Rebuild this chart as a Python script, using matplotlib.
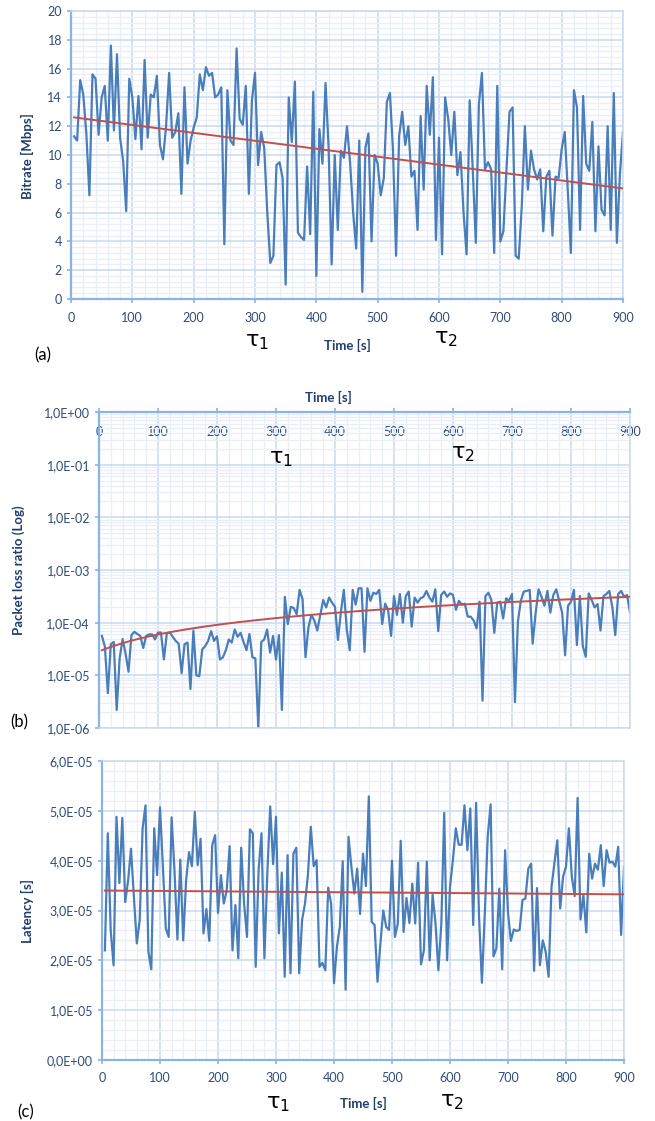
import numpy as np
import matplotlib
matplotlib.use('Agg')
import matplotlib.pyplot as plt
from matplotlib.ticker import MultipleLocator, LogLocator, FuncFormatter, NullFormatter

plt.rcParams['font.family'] = ['Lato', 'DejaVu Sans']

# sampling grid (one sample every 5 s)
time_s = np.arange(5, 901, 5)

# (a) bitrate in Mbps
bitrate = [11.3, 11.0, 15.2, 14.2, 11.5, 7.2, 15.6, 15.3, 11.4, 14.0,
           14.8, 11.0, 17.6, 11.7, 17.0, 11.2, 9.6, 6.1, 15.3, 14.0,
           11.1, 14.1, 10.4, 16.6, 11.2, 14.2, 14.0, 15.5, 10.7, 9.7,
           12.0, 15.7, 11.2, 11.6, 12.9, 7.3, 14.7, 9.4, 11.0, 11.9,
           12.6, 15.6, 14.5, 16.1, 15.5, 15.7, 14.0, 14.2, 14.7, 3.8,
           14.5, 11.0, 10.7, 17.4, 12.5, 12.1, 14.8, 7.3, 13.8, 15.7,
           9.3, 11.6, 10.5, 6.0, 2.5, 3.0, 9.3, 9.5, 8.4, 1.0,
           14.0, 10.9, 15.1, 4.6, 4.3, 4.1, 9.2, 4.5, 14.4, 1.6,
           11.8, 9.4, 15.0, 10.5, 2.4, 10.0, 4.8, 10.3, 9.8, 12.0,
           9.5, 6.0, 3.5, 11.0, 0.5, 10.5, 11.5, 4.0, 10.0, 9.4,
           7.2, 8.4, 13.7, 14.3, 10.3, 3.0, 11.3, 13.0, 10.7, 12.0,
           8.5, 8.9, 4.8, 12.7, 7.6, 14.8, 11.4, 15.4, 4.1, 11.2,
           3.1, 14.0, 12.5, 10.0, 13.0, 8.6, 10.2, 6.0, 3.1, 13.8,
           9.0, 3.9, 13.5, 15.7, 9.0, 9.5, 9.0, 3.2, 14.8, 4.0,
           4.7, 9.0, 13.0, 13.3, 3.0, 2.8, 6.5, 12.0, 7.6, 10.3,
           9.0, 8.3, 9.0, 4.7, 8.5, 8.9, 4.4, 8.5, 8.4, 10.4,
           11.6, 7.5, 3.2, 14.5, 13.3, 4.8, 14.1, 9.4, 8.9, 12.3,
           4.7, 10.6, 6.2, 5.8, 12.0, 4.8, 14.3, 3.9, 8.7, 11.6]

# (b) packet loss ratio
loss_ratio = [5.6e-5, 3.5e-5, 4.6e-6, 3.9e-5, 4.3e-5, 2.2e-6, 2.1e-5, 4.9e-5, 2.6e-5, 1.17e-5,
              5.8e-5, 6.7e-5, 6.1e-5, 5.6e-5, 3.3e-5, 5.6e-5, 6.0e-5, 6.0e-5, 4.8e-5, 6.5e-5,
              6.5e-5, 2.0e-5, 6.3e-5, 6.5e-5, 5.4e-5, 4.5e-5, 4.0e-5, 1.1e-5, 3.9e-5, 4.2e-5,
              5.5e-6, 7.1e-5, 1.0e-5, 9.6e-6, 3.1e-5, 3.6e-5, 4.5e-5, 6.9e-5, 4.5e-5, 5.5e-5,
              2.0e-5, 2.2e-5, 3.0e-5, 4.8e-5, 4.2e-5, 7.4e-5, 5.4e-5, 6.4e-5, 4.3e-5, 3.0e-5,
              6.1e-5, 2.2e-5, 2.1e-5, 1.0e-6, 4.3e-5, 4.8e-5, 7.4e-5, 2.7e-5, 5.6e-5, 2.0e-5,
              5.8e-5, 2.2e-6, 3.1e-4, 9.4e-5, 2.0e-4, 1.9e-4, 1.45e-4, 4.2e-4, 2.8e-4, 2.2e-5,
              8.2e-5, 1.4e-4, 1.1e-4, 7.1e-5, 1.4e-4, 2.7e-4, 1.95e-4, 3.0e-4, 2.4e-4, 2.0e-4,
              4.7e-5, 1.6e-4, 4.2e-4, 7.3e-5, 3.0e-5, 4.2e-4, 2.2e-4, 4.5e-4, 4.5e-4, 2.8e-5,
              4.5e-4, 2.6e-4, 3.7e-4, 3.5e-4, 4.2e-4, 9.4e-5, 2.3e-4, 1.75e-4, 5.6e-5, 3.2e-4,
              1.4e-4, 3.5e-4, 1.0e-4, 3.2e-4, 3.9e-4, 8.4e-5, 3.0e-4, 2.4e-4, 2.9e-4, 3.1e-4,
              4.0e-4, 3.0e-4, 2.5e-4, 4.3e-4, 6.9e-5, 3.35e-4, 3.9e-4, 3.1e-4, 3.6e-4, 3.35e-4,
              1.75e-4, 2.6e-4, 2.2e-4, 2.3e-4, 1.3e-4, 1.3e-4, 1.1e-4, 7.8e-5, 2.5e-4, 3.3e-6,
              3.2e-4, 3.7e-4, 2.7e-4, 6.4e-5, 2.4e-4, 2.5e-4, 1.2e-4, 2.9e-4, 2.6e-4, 3.5e-4,
              3.1e-6, 1.05e-4, 2.6e-4, 3.9e-4, 4.0e-4, 4.2e-4, 4.0e-5, 1.5e-4, 4.3e-4, 3.1e-4,
              2.1e-4, 4.0e-4, 1.55e-4, 3.35e-4, 4.3e-4, 2.6e-4, 1.55e-4, 2.4e-5, 2.1e-4, 2.5e-4,
              4.2e-4, 3.75e-5, 3.2e-4, 3.6e-5, 2.25e-5, 3.6e-4, 2.7e-4, 1.95e-4, 2.25e-4, 7.1e-5,
              3.2e-4, 3.5e-4, 4.0e-4, 2.0e-4, 5.8e-5, 3.5e-4, 4.0e-4, 3.1e-4, 3.35e-4, 1.55e-4]

# (c) latency, in units of 1E-05 s
latency_e5 = [2.20, 4.55, 2.6, 1.90, 4.88, 3.55, 4.86, 3.17, 3.6, 4.24,
              3.27, 2.34, 2.8, 4.65, 5.11, 2.17, 1.82, 4.65, 3.71, 5.07,
              3.88, 2.64, 2.47, 4.87, 3.8, 2.42, 4.02, 2.4, 3.6, 4.17,
              3.89, 4.98, 3.91, 4.44, 2.54, 3.03, 2.39, 4.31, 4.51, 2.95,
              3.71, 3.14, 3.4, 4.29, 2.20, 3.11, 2.04, 4.26, 3.14, 2.47,
              4.63, 4.55, 1.87, 3.81, 4.55, 2.04, 3.74, 5.09, 3.93, 4.88,
              2.54, 3.76, 1.67, 4.11, 1.74, 4.14, 4.26, 1.74, 2.81, 3.14,
              3.71, 4.68, 3.89, 4.01, 1.87, 1.95, 1.80, 3.46, 3.14, 1.54,
              2.27, 2.67, 3.99, 1.41, 4.48, 3.88, 3.34, 3.84, 2.93, 4.14,
              3.49, 5.29, 2.77, 2.71, 1.57, 2.34, 3.0, 2.67, 2.61, 4.0,
              2.47, 2.74, 4.40, 2.57, 3.25, 2.75, 3.54, 2.74, 3.96, 1.92,
              2.20, 3.98, 2.0, 3.32, 2.74, 1.80, 2.73, 4.96, 2.0, 3.47,
              4.01, 4.65, 4.32, 4.32, 5.11, 4.21, 5.05, 2.71, 5.16, 2.91,
              1.55, 2.94, 4.48, 5.13, 2.08, 2.24, 3.44, 1.82, 4.21, 2.95,
              2.39, 2.62, 2.59, 2.61, 3.21, 3.24, 3.84, 3.94, 1.79, 3.45,
              1.90, 2.40, 2.17, 1.67, 3.47, 3.95, 4.41, 3.04, 3.68, 3.88,
              4.65, 3.68, 3.29, 5.26, 2.82, 3.31, 2.56, 4.14, 3.64, 3.94,
              3.82, 4.31, 3.49, 4.21, 3.96, 3.98, 3.88, 4.28, 2.51, 3.88]
latency = np.array(latency_e5) * 1e-5

BLUE = '#4A7EBB'
RED = '#C0504D'
AXIS = '#8DB3E2'
GRID_MAJ = '#C9DAF0'
GRID_MIN = '#E8EFF8'
TICK = '#2F4B7C'
LABEL = '#1F3D6E'

W, H = 655, 1121
fig = plt.figure(figsize=(W / 100, H / 100), dpi=100)


def px_axes(left, top, right, bottom):
    return fig.add_axes([left / W, 1 - bottom / H, (right - left) / W, (bottom - top) / H])


def ftext(x, y, s, **kw):
    fig.text(x / W, 1 - y / H, s, ha='center', va='center', **kw)


def tau(x, y, n):
    # tau with a subscript index, as one text
    ftext(x, y, r'$\mathregular{τ_{%s}}$' % n, fontsize=16, color='black',
          family='DejaVu Sans')


def excel_sci(v, pos):
    return f'{v:.1E}'.replace('.', ',')


def base_style(ax, axis_side='bottom'):
    ax.set_xlim(0, 900)
    ax.xaxis.set_major_locator(MultipleLocator(100))
    ax.xaxis.set_minor_locator(MultipleLocator(20))
    ax.grid(which='major', color=GRID_MAJ, lw=1.1)
    ax.grid(which='minor', color=GRID_MIN, lw=0.9)
    ax.set_axisbelow(True)
    for s in ['top', 'right', 'bottom']:
        ax.spines[s].set_color(GRID_MAJ)
        ax.spines[s].set_linewidth(1.1)
    ax.spines['left'].set_color(AXIS)
    ax.spines['left'].set_linewidth(1.6)
    ax.spines[axis_side].set_color(AXIS)
    ax.spines[axis_side].set_linewidth(1.6)
    ax.tick_params(which='major', length=3, width=1.2, color=AXIS,
                   labelcolor=TICK, labelsize=9)
    ax.tick_params(which='minor', length=0)


def trend(ax, y):
    coef = np.polyfit(time_s, y, 1)
    ax.plot(time_s, np.polyval(coef, time_s), color=RED, lw=1.4, zorder=3)


# ---------- (a) bitrate ----------
ax1 = px_axes(71, 11, 623, 299)
base_style(ax1)
ax1.plot(time_s, bitrate, color=BLUE, lw=1.6, zorder=2)
trend(ax1, bitrate)
ax1.set_ylim(0, 20)
ax1.yaxis.set_major_locator(MultipleLocator(2))
ax1.yaxis.set_minor_locator(MultipleLocator(0.4))
ax1.tick_params(axis='x', pad=6)
ftext(27, 156, 'Bitrate [Mbps]', rotation=90, fontsize=9.5, fontweight='bold', color=LABEL)
ftext(347, 345, 'Time [s]', fontsize=9.5, fontweight='bold', color=LABEL)
tau(257, 342, '1')
tau(446, 339, '2')
ftext(43, 355, '(a)', fontsize=12, color='black')

# ---------- (b) packet loss ----------
ax2 = px_axes(99, 412, 630, 728)
base_style(ax2, axis_side='top')
ax2.plot(time_s, loss_ratio, color=BLUE, lw=1.6, zorder=2)
trend(ax2, loss_ratio)
ax2.set_yscale('log')
ax2.set_ylim(1e-6, 1)
ax2.yaxis.set_major_locator(LogLocator(base=10, numticks=10))
ax2.yaxis.set_minor_locator(LogLocator(base=10, subs=np.arange(2, 10), numticks=20))
ax2.yaxis.set_major_formatter(FuncFormatter(excel_sci))
ax2.yaxis.set_minor_formatter(NullFormatter())
ax2.tick_params(axis='x', top=True, bottom=False, labeltop=True, labelbottom=False, pad=-22)
ax2.tick_params(axis='y', which='major', length=3)
ftext(19, 570, 'Packet loss ratio (Log)', rotation=90, fontsize=9.5, fontweight='bold', color=LABEL)
ftext(328, 397, 'Time [s]', fontsize=9.5, fontweight='bold', color=LABEL)
tau(281, 459, '1')
tau(463, 454, '2')
ftext(19, 722, '(b)', fontsize=12, color='black')

# ---------- (c) latency ----------
ax3 = px_axes(102, 761, 624, 1060)
base_style(ax3)
ax3.plot(time_s, latency, color=BLUE, lw=1.6, zorder=2)
trend(ax3, latency)
ax3.set_ylim(0, 6e-5)
ax3.yaxis.set_major_locator(MultipleLocator(1e-5))
ax3.yaxis.set_minor_locator(MultipleLocator(2e-6))
ax3.yaxis.set_major_formatter(FuncFormatter(excel_sci))
ax3.tick_params(axis='x', pad=6)
ftext(27, 911, 'Latency [s]', rotation=90, fontsize=9.5, fontweight='bold', color=LABEL)
ftext(363, 1103, 'Time [s]', fontsize=9.5, fontweight='bold', color=LABEL)
tau(278, 1104, '1')
tau(452, 1102, '2')
ftext(26, 1112, '(c)', fontsize=12, color='black')

fig.savefig('out.png', dpi=100)
